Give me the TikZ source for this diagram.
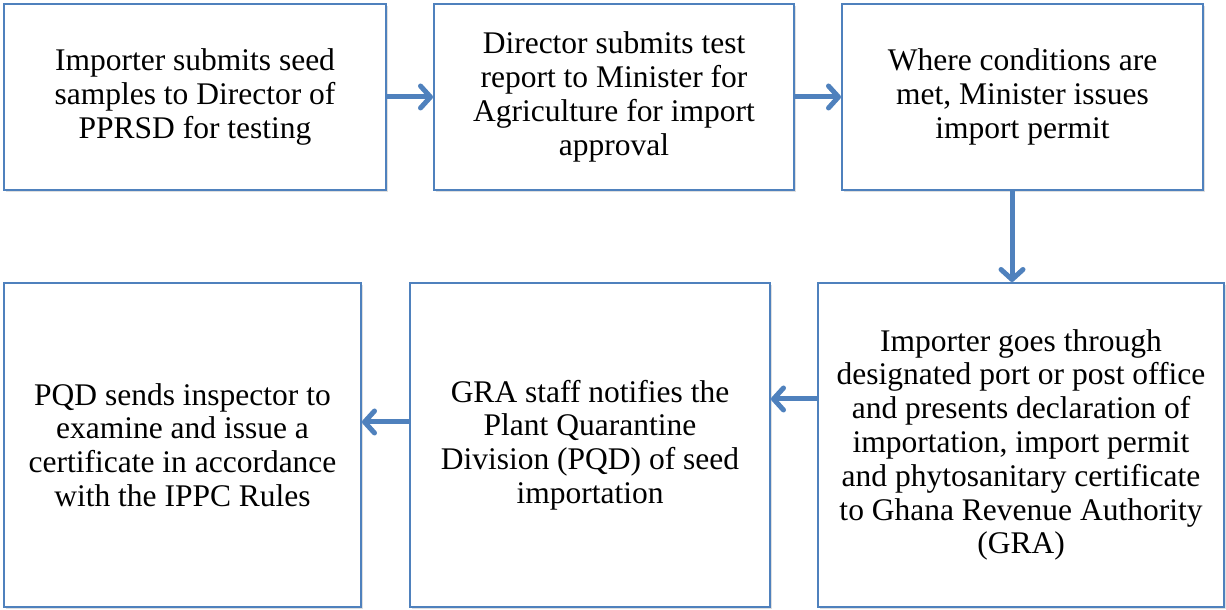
\documentclass[tikz,border=0pt]{standalone}
\usepackage{fontspec}
\setmainfont{Liberation Serif}
\usetikzlibrary{arrows.meta,shadows}
\definecolor{boxblue}{HTML}{4F81BD}
\tikzset{
  stepbox/.style={draw=boxblue,line width=2pt,fill=white,align=center,
    inner sep=0pt,font=\fontsize{31.5pt}{33.8pt}\selectfont,
    drop shadow={opacity=0.25,shadow xshift=1.5pt,shadow yshift=-2pt}},
  flow/.style={->,draw=boxblue,line width=5pt}
}
\begin{document}
\begin{tikzpicture}[x=1pt,y=1pt,>={Straight Barb[length=10pt,width=22pt,round]}]
                \useasboundingbox (0,0) rectangle (1226,610);
                % top row
                \node[stepbox,minimum width=382pt,minimum height=186pt] (imp) at (195,513)
                  {Importer submits seed\\samples to Director of\\PPRSD for testing};
                \node[stepbox,minimum width=360pt,minimum height=186pt] (dir) at (614,513)
                  {Director submits test\\report to Minister for\\Agriculture for import\\approval};
                \node[stepbox,minimum width=361pt,minimum height=186pt] (min) at (1022.5,513)
                  {Where conditions are\\met, Minister issues\\import permit};
                % bottom row
                \node[stepbox,minimum width=406pt,minimum height=324pt] (port) at (1021,165)
                  {Importer goes through\\designated port or post office\\and presents declaration of\\importation, import permit\\and phytosanitary certificate\\to Ghana Revenue Authority\\(GRA)};
                \node[stepbox,minimum width=360pt,minimum height=324pt] (gra) at (590,165)
                  {GRA staff notifies the\\Plant Quarantine\\Division (PQD) of seed\\importation};
                \node[stepbox,minimum width=357pt,minimum height=324pt] (pqd) at (182.5,165)
                  {PQD sends inspector to\\examine and issue a\\certificate in accordance\\with the IPPC Rules};
                \draw[flow](imp.east)--(dir.west);
                \draw[flow](dir.east)--(min.west);
                \draw[flow]([xshift=-10.5pt]min.south)--([xshift=-10.5pt]min.south|-port.north);
                \draw[flow]([yshift=46pt]port.west)--([yshift=46pt]port.west-|gra.east);
                \draw[flow]([yshift=23pt]gra.west)--([yshift=23pt]gra.west-|pqd.east);
            \end{tikzpicture}
\end{document}
